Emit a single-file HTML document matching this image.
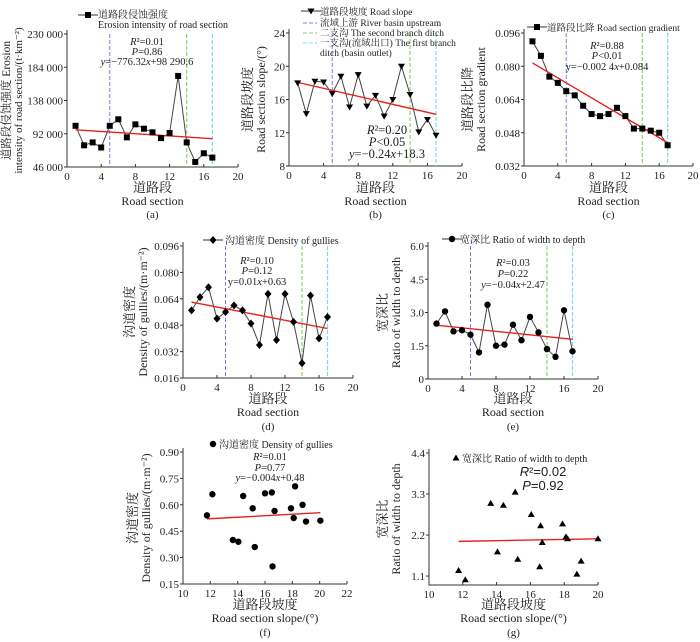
<!DOCTYPE html>
<html><head><meta charset="utf-8"><style>
html,body{margin:0;padding:0;background:#fff}
svg{display:block;font-family:"Liberation Serif","Noto Serif CJK SC","Noto Sans CJK SC",serif}
</style></head><body>
<svg id="fig" width="700" height="642" viewBox="0 0 700 642"></svg>
<script>
// ---- data ----
const sections = [1,2,3,4,5,6,7,8,9,10,11,12,13,14,15,16,17];
const erosion = [103000,76000,80000,73000,103000,112000,87000,105000,99000,94000,86000,93000,172000,80000,53000,65000,59000];
const slope = [18,14.3,18.2,18.1,16.7,18.8,15.1,19,15.2,16.5,14,16,20,16.6,12.1,13.6,11.7];
const gradient = [0.092,0.085,0.075,0.072,0.068,0.066,0.061,0.057,0.056,0.057,0.060,0.056,0.050,0.050,0.049,0.048,0.042];
const density = [0.057,0.065,0.071,0.052,0.056,0.060,0.057,0.049,0.036,0.067,0.039,0.067,0.050,0.025,0.066,0.040,0.053];
const ratio = [2.5,3.05,2.15,2.2,2.0,1.2,3.35,1.5,1.55,2.45,1.75,2.8,2.1,1.35,1.0,3.1,1.25];
const scatterSlopeF = [11.75,12.15,13.65,14.05,14.4,15.1,15.25,16.0,16.5,16.55,16.7,17.9,18.1,18.2,18.75,19.0,20.05];
const scatterDensity = [0.54,0.66,0.40,0.39,0.65,0.58,0.36,0.665,0.67,0.25,0.565,0.58,0.525,0.705,0.60,0.505,0.51];
const scatterSlopeG = [11.75,12.15,13.65,14.05,14.4,15.1,15.25,16.05,16.55,16.6,16.7,17.9,18.1,18.2,18.75,19.0,20.0];
const scatterRatio = [1.25,1.0,3.05,1.75,3.0,3.35,1.55,2.75,1.35,2.45,2.0,2.5,2.15,2.1,1.15,1.5,2.1];
const fitA = [97500,85100];
const fitB = [18.06,14.22];
const fitC = [0.0816,0.0432];
const fitD = [0.062,0.046];
const fitE = [2.43,1.79];
const fitF = [0.52,0.555];
const fitG = [2.03,2.1];
const sectionTicks = [0,4,8,12,16,20];
const ticksA = [46000,92000,138000,184000,230000];
const tickLabelsA = ["46 000","92 000","138 000","184 000","230 000"];
const ticksB = [8,12,16,20,24];
const ticksC = [0.032,0.048,0.064,0.080,0.096];
const tickLabelsC = ["0.032","0.048","0.064","0.080","0.096"];
const ticksD = [0.016,0.032,0.048,0.064,0.080,0.096];
const tickLabelsD = ["0.016","0.032","0.048","0.064","0.080","0.096"];
const ticksE = [0,1.5,3.0,4.5,6.0];
const tickLabelsE = ["0","1.5","3.0","4.5","6.0"];
const ticksFx = [10,12,14,16,18,20,22];
const ticksFy = [0.15,0.30,0.45,0.60,0.75,0.90];
const tickLabelsFy = ["0.15","0.30","0.45","0.60","0.75","0.90"];
const ticksGx = [10,12,14,16,18,20];
const ticksGy = [1.1,2.2,3.3,4.4];
const tickLabelsGy = ["1.1","2.2","3.3","4.4"];
const divisions = [5,14,17];

const NS="http://www.w3.org/2000/svg";
const svg=document.getElementById('fig');
function mk(tag,attrs,parent){const e=document.createElementNS(NS,tag);for(const k in attrs)e.setAttribute(k,attrs[k]);(parent||svg).appendChild(e);return e;}
function txt(s,x,y,size,anchor,parent,extra){const e=mk('text',Object.assign({x:x,y:y,'font-size':size,'text-anchor':anchor||'middle',fill:'#222'},extra||{}),parent);e.textContent=s;return e;}
function scale(d0,d1,r0,r1){return v=>r0+(v-d0)/(d1-d0)*(r1-r0);}
const divColors=['#8080d0','#90d070','#80d8e0'];

function marker(shape,x,y,g){
  let e;
  if(shape==='square') e=mk('rect',{x:x-3,y:y-3,width:6,height:6,fill:'#000'},g);
  else if(shape==='tdown') e=mk('polygon',{points:`${x-3.5},${y-2.5} ${x+3.5},${y-2.5} ${x},${y+3.5}`,fill:'#000'},g);
  else if(shape==='tup') e=mk('polygon',{points:`${x-3.5},${y+2.5} ${x+3.5},${y+2.5} ${x},${y-3.5}`,fill:'#000'},g);
  else if(shape==='diamond') e=mk('polygon',{points:`${x},${y-4} ${x+3.5},${y} ${x},${y+4} ${x-3.5},${y}`,fill:'#000'},g);
  else e=mk('circle',{cx:x,cy:y,r:3.2,fill:'#000'},g);
  return e;
}

function panel(c){
  const g=mk('g',{});
  
  
  const sx=scale(c.xd[0],c.xd[1],c.x0,c.x1), sy=scale(c.yd[0],c.yd[1],c.y1,c.y0);
  const ax=mk('path',{d:`M${c.x0},${c.y0-4}V${c.y1}H${c.x1}`,stroke:'#333',fill:'none','stroke-width':1},g);
  
  
  c.xt.forEach(v=>{const X=sx(v);mk('line',{x1:X,x2:X,y1:c.y1,y2:c.y1-3,stroke:'#333'},g);
    const t=txt(String(v),X,c.y1+13,11,'middle',g);
    
    });
  c.yt.forEach((v,i)=>{const Y=sy(v);mk('line',{x1:c.x0,x2:c.x0-3,y1:Y,y2:Y,stroke:'#333'},g);
    const t=txt(c.ytl?c.ytl[i]:String(v),c.x0-4,Y+4,11,'end',g);
    
    });
  if(c.div) divisions.forEach((d,i)=>{const l=mk('line',{x1:sx(d),x2:sx(d),y1:c.y0,y2:c.y1,stroke:divColors[i],'stroke-dasharray':'4,2','stroke-width':i?1.2:1},g);
    
    });
  if(c.line){const pl=mk('polyline',{points:c.xs.map((x,i)=>sx(x)+','+sy(c.ys[i])).join(' '),fill:'none',stroke:'#444','stroke-width':1},g);
    
    }
  const fl=mk('line',{x1:sx(c.fx[0]),x2:sx(c.fx[1]),y1:sy(c.fit[0]),y2:sy(c.fit[1]),stroke:'#e82020','stroke-width':1.4},g);
  
  
  c.xs.forEach((x,i)=>{const m=marker(c.shape,sx(x),sy(c.ys[i]),g);
    
    });
  c.xl.forEach((s,i)=>{const t=txt(s,(c.x0+c.x1)/2,c.xly[i],i==2?11:(i==0?13:12),'middle',g);
    
    });
  c.yl.forEach((s,i)=>{const cx=c.ylx[i],cy=(c.y0+c.y1)/2;const t=txt(s,cx,cy,c.yfs?c.yfs[i]:(i==0?13:12),'middle',g,{transform:`rotate(-90 ${cx} ${cy})`});
    
    });
  c.ann.forEach((s,i)=>{const t=mk('text',{x:c.ax,y:c.ay[i],'font-size':c.as||10.5,'text-anchor':'middle',fill:'#222','font-family':c.af||'Liberation Serif'},g);
    t.innerHTML=s;
    
    });
  if(c.leg){const L=c.leg;
    if(c.line) mk('line',{x1:L.x-10,x2:L.x+10,y1:L.y,y2:L.y,stroke:'#333'},g);
    marker(c.shape,L.x,L.y,g);
    L.t.forEach((s,i)=>{const t=txt(s,L.tx,L.ty[i],L.fs||10,'start',g);
      
      });
  }
  return g;
}

const roadX=['道路段','Road section'];
panel({name:'panel-a',x0:67,x1:238,y0:34,y1:167,xd:[0,20],yd:[46000,230000],xt:sectionTicks,yt:ticksA,ytl:tickLabelsA,div:true,line:true,
  xs:sections,ys:erosion,fx:[1,17],fit:fitA,shape:'square',xl:[...roadX,'(a)'],xly:[192,205,218],
  yl:['道路段侵蚀强度 Erosion','intensity of road section/(t·km⁻²)'],ylx:[10,22],yfs:[11.5,11],
  ann:['<tspan font-style="italic">R</tspan>²=0.01','<tspan font-style="italic">P</tspan>=0.86','<tspan font-style="italic">y</tspan>=−776.32<tspan font-style="italic">x</tspan>+98 290.6'],ax:147,ay:[45,55,65],
  leg:{x:88,y:15,tx:98,ty:[18,28],t:['道路段侵蚀强度','Erosion intensity of road section']}});
panel({name:'panel-b',x0:289,x1:462,y0:33,y1:166,xd:[0,20],yd:[8,24],xt:sectionTicks,yt:ticksB,div:true,line:true,
  xs:sections,ys:slope,fx:[1,17],fit:fitB,shape:'tdown',xl:[...roadX,'(b)'],xly:[192,205,218],
  yl:['道路段坡度','Road section slope/(°)'],ylx:[252,265],
  ann:['<tspan font-style="italic">R</tspan>²=0.20','<tspan font-style="italic">P</tspan>&lt;0.05','<tspan font-style="italic">y</tspan>=−0.24<tspan font-style="italic">x</tspan>+18.3'],ax:387,ay:[134,146,158],as:12.5,
  leg:{x:311,y:11,tx:320,ty:[15,26,36,46,56],t:['道路段坡度 Road slope','流域上游 River basin upstream','二支沟 The second branch ditch','一支沟(流域出口) The first branch','ditch (basin outlet)'],fs:9.5}});
[['#8080d0',23],['#90d070',33],['#80d8e0',43]].forEach(([col,y])=>{const l=mk('line',{x1:303,x2:317,y1:y,y2:y,stroke:col,'stroke-dasharray':'4,2'});
  
  });
panel({name:'panel-c',x0:524,x1:693,y0:33,y1:166,xd:[0,20],yd:[0.032,0.096],xt:sectionTicks,yt:ticksC,ytl:tickLabelsC,div:true,line:true,
  xs:sections,ys:gradient,fx:[1,17],fit:fitC,shape:'square',xl:[...roadX,'(c)'],xly:[192,205,218],
  yl:['道路段比降','Road section gradient'],ylx:[472,485],
  ann:['<tspan font-style="italic">R</tspan>²=0.88','<tspan font-style="italic">P</tspan>&lt;0.01','y=−0.002 4<tspan font-style="italic">x</tspan>+0.084'],ax:607,ay:[49,59,70],
  leg:{x:537,y:27,tx:547,ty:[31],t:['道路段比降 Road section gradient'],fs:9.5}});
panel({name:'panel-d',x0:183,x1:353,y0:246,y1:378,xd:[0,20],yd:[0.016,0.096],xt:sectionTicks,yt:ticksD,ytl:tickLabelsD,div:true,line:true,
  xs:sections,ys:density,fx:[1,17],fit:fitD,shape:'diamond',xl:[...roadX,'(d)'],xly:[403,416,430],
  yl:['沟道密度','Density of gullies/(m·m⁻²)'],ylx:[134,147],
  ann:['<tspan font-style="italic">R</tspan>²=0.10','<tspan font-style="italic">P</tspan>=0.12','y=0.01<tspan font-style="italic">x</tspan>+0.63'],ax:257,ay:[264,274,285],
  leg:{x:213,y:240,tx:225,ty:[244],t:['沟道密度 Density of gullies']}});
panel({name:'panel-e',x0:428,x1:598,y0:246,y1:379,xd:[0,20],yd:[0,6],xt:sectionTicks,yt:ticksE,ytl:tickLabelsE,div:true,line:true,
  xs:sections,ys:ratio,fx:[1,17],fit:fitE,shape:'circle',xl:[...roadX,'(e)'],xly:[403,416,430],
  yl:['宽深比','Ratio of width to depth'],ylx:[387,400],
  ann:['<tspan font-style="italic">R</tspan>²=0.03','<tspan font-style="italic">P</tspan>=0.22','<tspan font-style="italic">y</tspan>=−0.04<tspan font-style="italic">x</tspan>+2.47'],ax:513,ay:[266,277,288],
  leg:{x:452,y:239,tx:460,ty:[243],t:['宽深比 Ratio of width to depth']}});
panel({name:'panel-f',x0:183,x1:347,y0:452,y1:584,xd:[10,22],yd:[0.15,0.90],xt:ticksFx,yt:ticksFy,ytl:tickLabelsFy,div:false,line:false,
  xs:scatterSlopeF,ys:scatterDensity,fx:[11.75,20.05],fit:fitF,shape:'circle',xl:['道路段坡度','Road section slope/(°)','(f)'],xly:[609,622,636],
  yl:['沟道密度','Density of gullies/(m·m⁻²)'],ylx:[137,150],
  ann:['<tspan font-style="italic">R</tspan>²=0.01','<tspan font-style="italic">P</tspan>=0.77','<tspan font-style="italic">y</tspan>=−0.004<tspan font-style="italic">x</tspan>+0.48'],ax:270,ay:[460,471,481],
  leg:{x:213,y:444,tx:219,ty:[448],t:['沟道密度 Density of gullies']}});
panel({name:'panel-g',x0:429,x1:598,y0:453,y1:585,xd:[10,20],yd:[0.86,4.4],xt:ticksGx,yt:ticksGy,ytl:tickLabelsGy,div:false,line:false,
  xs:scatterSlopeG,ys:scatterRatio,fx:[11.75,20],fit:fitG,shape:'tup',xl:['道路段坡度','Road section slope/(°)','(g)'],xly:[609,622,636],
  yl:['宽深比','Ratio of width to depth'],ylx:[387,400],
  ann:['<tspan font-style="italic">R</tspan>²=0.02','<tspan font-style="italic">P</tspan>=0.92'],ax:543,ay:[476,490],as:13,af:'Liberation Sans',
  leg:{x:456,y:458,tx:462,ty:[462],t:['宽深比 Ratio of width to depth']}});
</script>
</body></html>
